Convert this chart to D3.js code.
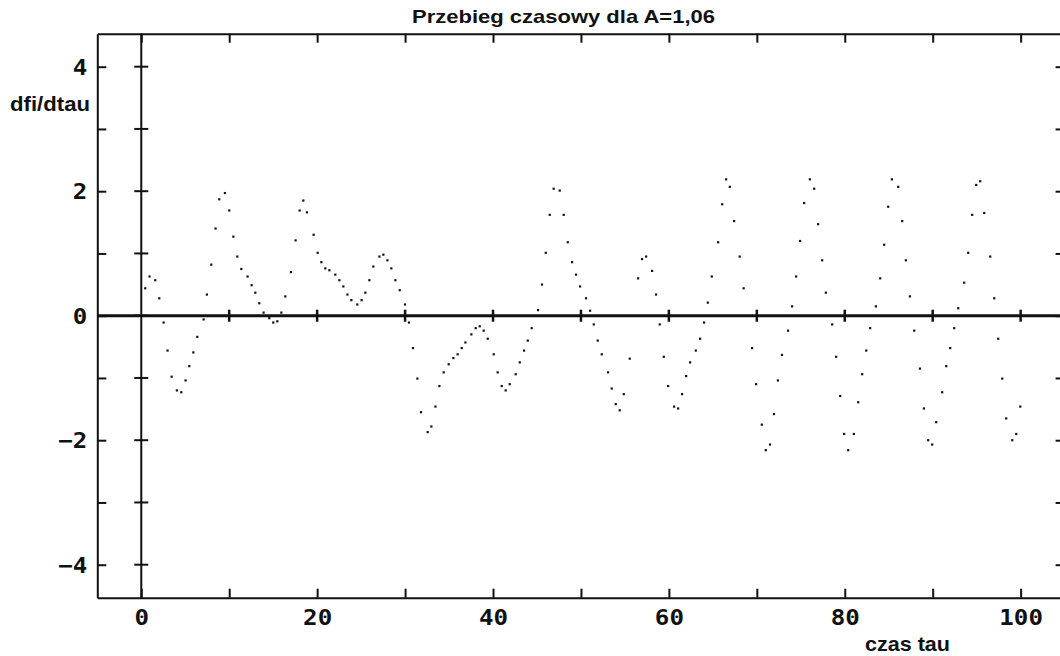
<!DOCTYPE html>
<html>
<head>
<meta charset="utf-8">
<script src="https://cdn.jsdelivr.net/npm/d3@7"></script>
<style>
  html, body { margin: 0; padding: 0; background: #fff; }
  svg { display: block; }
</style>
</head>
<body>
<div id="chart"></div>
<script>
// dane
const tau = [
  0.45, 0.94, 1.59, 2.05, 2.54, 2.99, 3.45, 4.05, 4.55, 5.04, 5.46, 5.92, 6.37, 7.09, 7.46, 7.96, 8.45, 8.87, 9.51,
  10.01, 10.47, 10.92, 11.38, 12.09, 12.55, 12.97, 13.42, 13.91, 14.56, 15.01, 15.47, 15.93, 16.38, 17.02, 17.55, 18.01, 18.43, 18.84, 19.60,
  20.06, 20.48, 20.93, 21.39, 22.07, 22.53, 22.98, 23.44, 23.89, 24.57, 25.06, 25.48, 25.94, 26.39, 27.08, 27.53, 27.99, 28.44, 28.90, 29.39, 29.99,
  30.44, 30.90, 31.40, 31.81, 32.57, 32.99, 33.45, 33.90, 34.39, 34.96, 35.49, 35.98, 36.44, 36.86, 37.54, 38.03, 38.49, 38.94, 39.40,
  40.08, 40.53, 40.99, 41.44, 41.90, 42.58, 43.04, 43.53, 43.95, 44.40, 45.12, 45.57, 46.00, 46.45, 46.90, 47.59, 48.04, 48.50, 48.99, 49.44, 49.90,
  50.58, 51.04, 51.46, 51.91, 52.37, 53.08, 53.50, 53.96, 54.41, 54.87, 55.55, 56.50, 56.95, 57.41, 58.09, 58.54, 58.96, 59.42, 59.91,
  60.59, 61.05, 61.50, 61.96, 62.41, 63.06, 63.55, 64.00, 64.43, 64.88, 65.60, 66.06, 66.51, 66.93, 67.42, 68.05, 68.50, 69.46, 69.92,
  70.57, 71.02, 71.50, 71.95, 72.40, 72.86, 73.55, 74.01, 74.47, 74.92, 75.38, 76.03, 76.52, 76.97, 77.43, 77.85, 78.57, 79.02, 79.48, 79.93,
  80.39, 81.04, 81.53, 81.98, 82.44, 82.89, 83.54, 84.03, 84.48, 84.94, 85.36, 86.08, 86.53, 86.95, 87.41, 87.90, 88.55, 89.00, 89.49, 89.94,
  90.40, 91.08, 91.54, 91.99, 92.45, 92.90, 93.58, 94.04, 94.49, 94.95, 95.40, 95.86, 96.54, 97.00, 97.45, 97.91, 98.36, 99.05, 99.50, 99.96
];
const dfi = [
  0.44, 0.63, 0.57, 0.28, -0.11, -0.56, -0.98, -1.20, -1.23, -1.04, -0.81, -0.59, -0.34, -0.06, 0.34, 0.82, 1.40, 1.87, 1.97,
  1.69, 1.27, 0.95, 0.75, 0.63, 0.49, 0.37, 0.20, 0.05, -0.04, -0.11, -0.09, 0.05, 0.31, 0.70, 1.21, 1.69, 1.85, 1.66, 1.30,
  1.01, 0.86, 0.76, 0.73, 0.66, 0.57, 0.47, 0.34, 0.25, 0.18, 0.25, 0.37, 0.57, 0.79, 0.95, 0.98, 0.89, 0.76, 0.57, 0.41, 0.18,
  -0.11, -0.52, -1.01, -1.55, -1.87, -1.78, -1.46, -1.13, -0.91, -0.78, -0.68, -0.62, -0.52, -0.43, -0.30, -0.20, -0.17, -0.24, -0.37,
  -0.62, -0.91, -1.13, -1.20, -1.10, -0.94, -0.75, -0.56, -0.40, -0.20, 0.09, 0.50, 1.01, 1.62, 2.04, 2.01, 1.62, 1.18, 0.86, 0.66, 0.47,
  0.28, 0.08, -0.14, -0.40, -0.62, -0.91, -1.17, -1.42, -1.52, -1.26, -0.69, 0.60, 0.91, 0.95, 0.72, 0.34, -0.14, -0.66, -1.13,
  -1.46, -1.49, -1.26, -0.97, -0.75, -0.56, -0.37, -0.11, 0.21, 0.63, 1.18, 1.79, 2.19, 2.07, 1.52, 0.95, 0.44, -0.52, -1.10,
  -1.75, -2.16, -2.07, -1.58, -1.04, -0.63, -0.24, 0.15, 0.63, 1.20, 1.81, 2.19, 2.04, 1.47, 0.89, 0.37, -0.14, -0.66, -1.29, -1.90,
  -2.16, -1.90, -1.39, -0.94, -0.56, -0.20, 0.15, 0.60, 1.14, 1.75, 2.19, 2.07, 1.52, 0.89, 0.31, -0.24, -0.85, -1.49, -2.00, -2.07,
  -1.71, -1.23, -0.81, -0.52, -0.20, 0.12, 0.53, 1.01, 1.62, 2.10, 2.16, 1.65, 0.95, 0.28, -0.37, -1.01, -1.65, -2.00, -1.90, -1.46
];
const xTicks = [0, 10, 20, 30, 40, 50, 60, 70, 80, 90, 100];
const xLabels = [0, 20, 40, 60, 80, 100];
const yTicks = [-4, -3, -2, -1, 0, 1, 2, 3, 4];
const yLabels = [-4, -2, 0, 2, 4];

const title = "Przebieg czasowy dla A=1,06";
const yTitle = "dfi/dtau";
const xTitle = "czas tau";

const width = 1060, height = 656;
const box = { left: 97.3, right: 1064.6, top: 33.7, bottom: 597.7 };
const stretch = 1.15;   // obraz jest rozciagniety w poziomie
const monoFont = "'DejaVu Sans Mono', 'Liberation Mono', monospace";
const sansFont = "'Liberation Sans', Arial, sans-serif";

const svg = d3.select("#chart").append("svg")
  .attr("width", width)
  .attr("height", height);

const x = d3.scaleLinear().domain([-5, 105]).range([box.left, box.right]);
const y = d3.scaleLinear().domain([-4.53, 4.53]).range([box.bottom, box.top]);

const fmt = d => (d < 0 ? "\u2212" + Math.abs(d) : String(d));

// ramka z osiami
const yAxisL = d3.axisLeft(y).tickValues(yTicks).tickSizeInner(-9).tickSizeOuter(0)
  .tickPadding(10 / stretch)
  .tickFormat(d => yLabels.includes(d) ? fmt(d) : "");
const yAxisR = d3.axisRight(y).tickValues(yTicks).tickSizeInner(-9).tickSizeOuter(0).tickFormat("");
const xAxisB = d3.axisBottom(x).tickValues(xTicks).tickSizeInner(-9).tickSizeOuter(0)
  .tickPadding(12)
  .tickFormat(d => xLabels.includes(d) ? fmt(d) : "");
const xAxisT = d3.axisTop(x).tickValues(xTicks).tickSizeInner(-9).tickSizeOuter(0).tickFormat("");

function styleAxis(g) {
  g.select(".domain").attr("stroke", "#111").attr("stroke-width", 2);
  g.selectAll(".tick line").attr("stroke", "#111").attr("stroke-width", 2);
  g.selectAll(".tick text")
    .attr("fill", "#111")
    .attr("font-family", monoFont)
    .attr("font-weight", "bold")
    .attr("font-size", 21)
    .attr("transform", `scale(${stretch},1)`);
}

svg.append("g").attr("transform", `translate(${box.left},0)`).call(yAxisL).call(styleAxis)
  .selectAll(".tick text").attr("dy", "0.36em");
svg.append("g").attr("transform", `translate(${box.right},0)`).call(yAxisR).call(styleAxis);
svg.append("g").attr("transform", `translate(0,${box.bottom})`).call(xAxisB).call(styleAxis);
svg.append("g").attr("transform", `translate(0,${box.top})`).call(xAxisT).call(styleAxis);

// punkty
svg.append("g")
  .selectAll("rect")
  .data(tau.map((t, i) => ({ t, v: dfi[i] })))
  .join("rect")
  .attr("x", d => x(d.t) - 1.1)
  .attr("y", d => y(d.v) - 1.1)
  .attr("width", 2.2)
  .attr("height", 2.2)
  .attr("fill", "#111");

// osie przez zero
const zero = svg.append("g").attr("stroke", "#111");
zero.append("line")
  .attr("x1", x(0)).attr("x2", x(0))
  .attr("y1", box.top).attr("y2", box.bottom)
  .attr("stroke-width", 2);
zero.append("line")
  .attr("x1", box.left).attr("x2", box.right)
  .attr("y1", y(0)).attr("y2", y(0))
  .attr("stroke-width", 3);
zero.selectAll(".yt").data(yTicks).join("line")
  .attr("x1", x(0) - 7).attr("x2", x(0) + 7)
  .attr("y1", d => y(d)).attr("y2", d => y(d))
  .attr("stroke-width", 2);
zero.selectAll(".xt").data(xTicks.filter(d => d !== 0)).join("line")
  .attr("x1", d => x(d)).attr("x2", d => x(d))
  .attr("y1", y(0) - 6).attr("y2", y(0) + 6)
  .attr("stroke-width", 2.5);

// napisy
svg.append("text")
  .attr("x", 412).attr("y", 23)
  .attr("font-family", sansFont).attr("font-weight", "bold").attr("font-size", 19)
  .attr("textLength", 303).attr("lengthAdjust", "spacingAndGlyphs")
  .attr("fill", "#111")
  .text(title);

svg.append("text")
  .attr("x", 10).attr("y", 111)
  .attr("font-family", sansFont).attr("font-weight", "bold").attr("font-size", 21)
  .attr("textLength", 80).attr("lengthAdjust", "spacingAndGlyphs")
  .attr("fill", "#111")
  .text(yTitle);

svg.append("text")
  .attr("x", 865).attr("y", 651)
  .attr("font-family", sansFont).attr("font-weight", "bold").attr("font-size", 21)
  .attr("textLength", 85).attr("lengthAdjust", "spacingAndGlyphs")
  .attr("fill", "#111")
  .text(xTitle);
</script>
</body>
</html>
